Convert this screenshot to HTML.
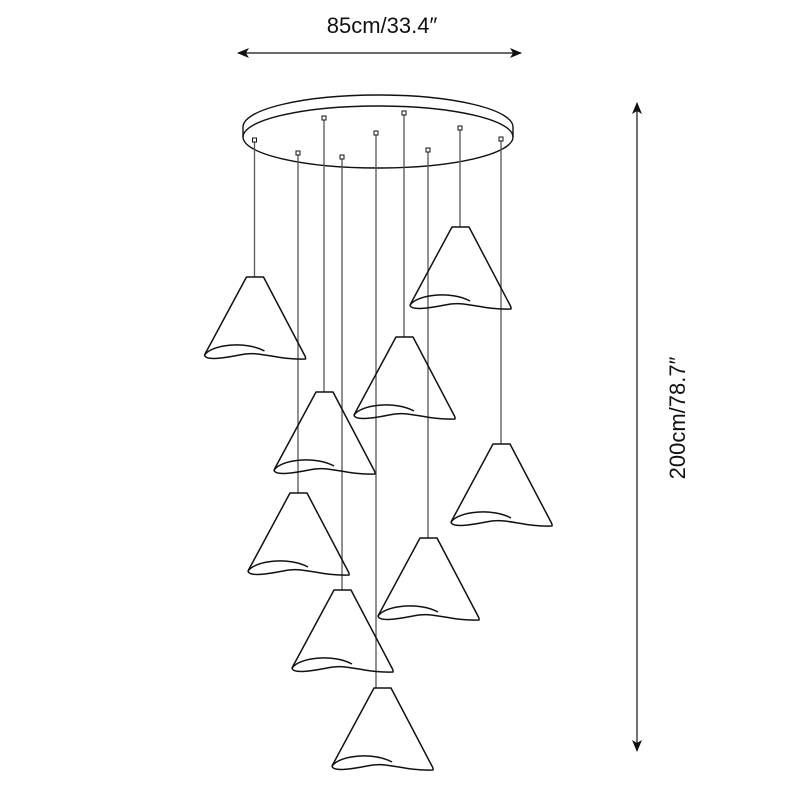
<!DOCTYPE html>
<html><head><meta charset="utf-8"><style>html,body{margin:0;padding:0;background:#fff}</style></head>
<body>
<svg width="800" height="800" viewBox="0 0 800 800" xmlns="http://www.w3.org/2000/svg">
<defs>
<g id="shade" fill="none" stroke="#111" stroke-width="1.5" stroke-linejoin="round">
<path d="M-50,78 L-8,0 L9,0 L51,80"/>
<path d="M-50,78 C-42,67 -8,64 10,74" />
<path d="M-50,78 C-49,84 -30,81 -15,78 C5,73 20,83 51,82 L51,80" />
</g>
<marker id="ah" markerWidth="12" markerHeight="10" refX="11" refY="5" orient="auto-start-reverse" markerUnits="userSpaceOnUse"><path d="M0,0 L12,5 L0,10 L3,5 Z" fill="#111"/></marker>
</defs>
<text x="382" y="33" font-family="Liberation Sans, sans-serif" font-size="22" text-anchor="middle" fill="#111">85cm/33.4″</text>
<line x1="238" y1="53" x2="521" y2="53" stroke="#111" stroke-width="1.2" marker-end="url(#ah)" marker-start="url(#ah)"/>
<line x1="637" y1="103" x2="637" y2="751" stroke="#111" stroke-width="1.2" marker-end="url(#ah)" marker-start="url(#ah)"/>
<text transform="translate(685,418) rotate(-90)" font-family="Liberation Sans, sans-serif" font-size="22" text-anchor="middle" fill="#111">200cm/78.7″</text>
<g fill="none" stroke="#111" stroke-width="1.4">
<path d="M243,127 A135,32 0 0 1 513,127"/>
<ellipse cx="378" cy="137" rx="135" ry="31"/>
<line x1="243" y1="127" x2="243" y2="137"/>
<line x1="513" y1="127" x2="513" y2="137"/>
</g>
<g stroke="#555" stroke-width="1.3">
<line x1="254.5" y1="142" x2="254.5" y2="277"/>
<line x1="298" y1="155" x2="298" y2="493"/>
<line x1="324" y1="120" x2="324" y2="392"/>
<line x1="342" y1="159" x2="342" y2="590"/>
<line x1="376" y1="135" x2="376" y2="688"/>
<line x1="404" y1="115" x2="404" y2="337"/>
<line x1="428" y1="152" x2="428" y2="538"/>
<line x1="460" y1="130" x2="460" y2="227"/>
<line x1="501" y1="141" x2="501" y2="444"/>
</g>
<g fill="#fff" stroke="#111" stroke-width="1">
<rect x="252.5" y="138" width="4" height="4"/>
<rect x="296" y="151" width="4" height="4"/>
<rect x="322" y="116" width="4" height="4"/>
<rect x="340" y="155" width="4" height="4"/>
<rect x="374" y="131" width="4" height="4"/>
<rect x="402" y="111" width="4" height="4"/>
<rect x="426" y="148" width="4" height="4"/>
<rect x="458" y="126" width="4" height="4"/>
<rect x="499" y="137" width="4" height="4"/>
</g>
<use href="#shade" transform="translate(254.5,277)"/>
<use href="#shade" transform="translate(460,227)"/>
<use href="#shade" transform="translate(404,337)"/>
<use href="#shade" transform="translate(324,392)"/>
<use href="#shade" transform="translate(501,444)"/>
<use href="#shade" transform="translate(298,493)"/>
<use href="#shade" transform="translate(428,538)"/>
<use href="#shade" transform="translate(342,590)"/>
<use href="#shade" transform="translate(382,688)"/>
</svg>
</body></html>
